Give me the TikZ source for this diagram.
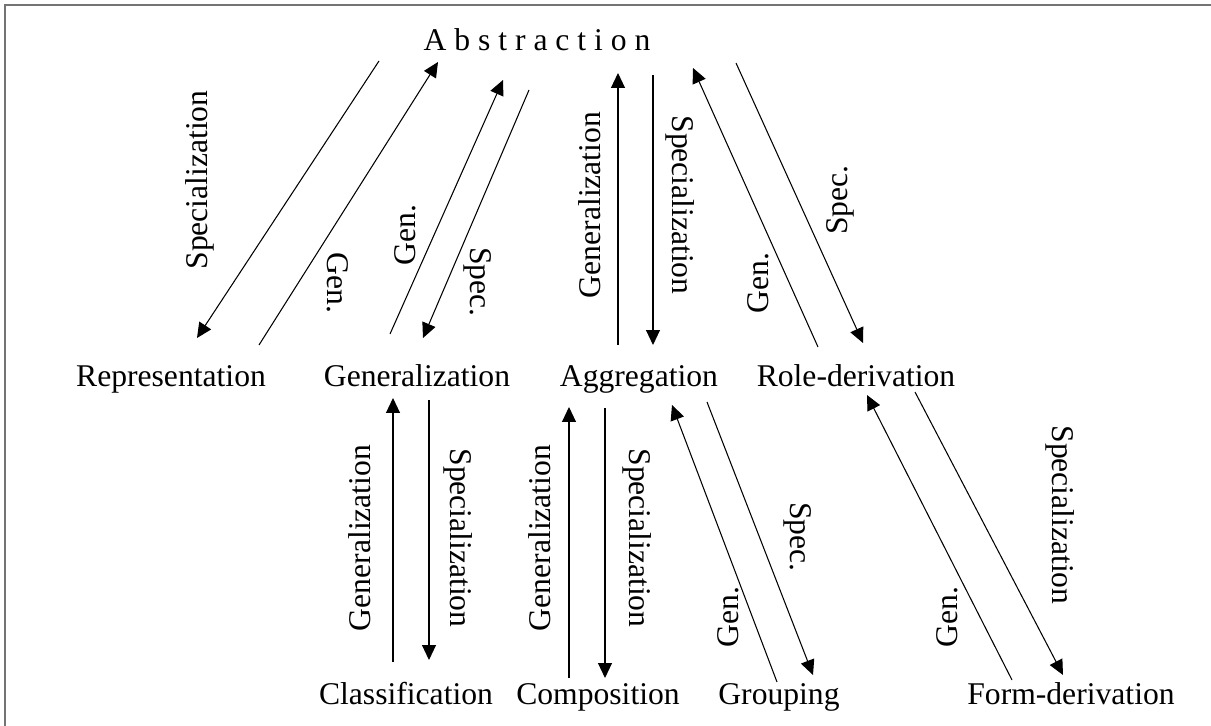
\documentclass[tikz,border=0pt]{standalone}
\usepackage{fontspec}
\setmainfont{Liberation Serif}
\usetikzlibrary{arrows.meta}

\begin{document}
\begin{tikzpicture}[x=0.02cm, y=-0.02cm, >={Triangle[length=0.3cm,width=0.28cm]},
		line width=0.6pt, font=\fontsize{18}{22}\selectfont,
		concept/.style={anchor=base, inner sep=0pt},
		uplbl/.style={rotate=90, inner sep=0pt},
		dnlbl/.style={rotate=-90, inner sep=0pt}]
		\useasboundingbox (0,0) rectangle (1211,726);
		% frame (top and left edge only)
		\draw[black!55, line width=1.2pt] (5,726) -- (5,5) -- (1211,5);
		% concepts
		\node[concept] (abs) at (537,51) {A b s t r a c t i o n};
		\node[concept] (rep) at (171,386) {Representation};
		\node[concept] (gen) at (417,386) {Generalization};
		\node[concept] (agg) at (639,386) {Aggregation};
		\node[concept] (role) at (856,386) {Role-derivation};
		\node[concept] (cls) at (406,704) {Classification};
		\node[concept] (comp) at (598,704) {Composition};
		\node[concept] (grp) at (779,704) {Grouping};
		\node[concept] (form) at (1071,704) {Form-derivation};
		% arrow ends: s = start, t = tip
		\coordinate (s1) at (379,61);   \coordinate (t1) at (197,338);
		\coordinate (s2) at (259,345);  \coordinate (t2) at (438,62);
		\coordinate (s3) at (390,334);  \coordinate (t3) at (503,80);
		\coordinate (s4) at (529,90);   \coordinate (t4) at (423,338);
		\coordinate (s5) at (618,345);  \coordinate (t5) at (618,73);
		\coordinate (s6) at (653,75);   \coordinate (t6) at (653,345);
		\coordinate (s7) at (818,347);  \coordinate (t7) at (693,68);
		\coordinate (s8) at (736,63);   \coordinate (t8) at (863,343);
		\coordinate (s9) at (393,662);  \coordinate (t9) at (393,398);
		\coordinate (s10) at (429,400); \coordinate (t10) at (429,660);
		\coordinate (s11) at (569,678); \coordinate (t11) at (569,407);
		\coordinate (s12) at (605,408); \coordinate (t12) at (605,678);
		\coordinate (s13) at (777,682); \coordinate (t13) at (672,405);
		\coordinate (s14) at (707,402); \coordinate (t14) at (813,675);
		\coordinate (s15) at (1012,680); \coordinate (t15) at (867,395);
		\coordinate (s16) at (915,392); \coordinate (t16) at (1063,675);
		\foreach \i in {1,...,16} {
			\draw[->] (s\i) -- (t\i);
		}
		% labels
		\node[uplbl] (l1) at (200,180) {Specialization};
		\node[dnlbl] (l2) at (338,283) {Gen.};
		\node[uplbl] (l3) at (405,235) {Gen.};
		\node[dnlbl] (l4) at (478,282) {Spec.};
		\node[uplbl] (l5) at (590,205) {Generalization};
		\node[dnlbl] (l6) at (680,205) {Specialization};
		\node[uplbl] (l7) at (758,283) {Gen.};
		\node[uplbl] (l8) at (840,200) {Spec.};
		\node[uplbl] (l9) at (360,538) {Generalization};
		\node[dnlbl] (l10) at (458,538) {Specialization};
		\node[uplbl] (l11) at (540,538) {Generalization};
		\node[dnlbl] (l12) at (637,538) {Specialization};
		\node[uplbl] (l13) at (728,617) {Gen.};
		\node[dnlbl] (l14) at (798,537) {Spec.};
		\node[uplbl] (l15) at (947,617) {Gen.};
		\node[dnlbl] (l16) at (1060,515) {Specialization};
	\end{tikzpicture}
\end{document}
